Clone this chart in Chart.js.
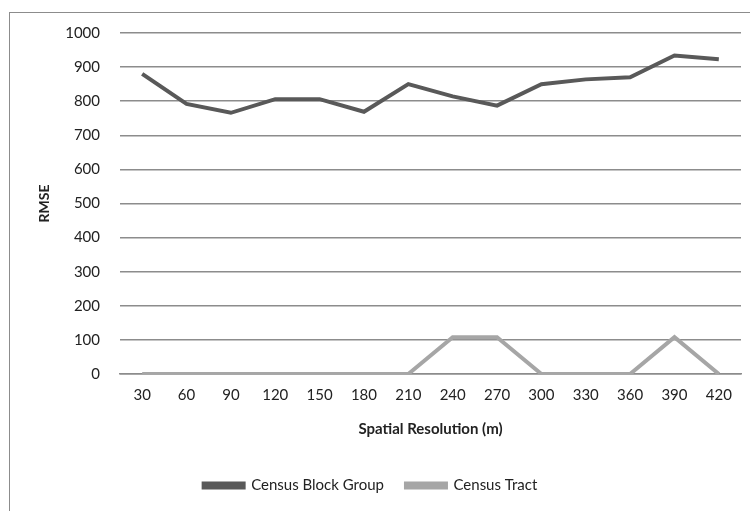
<!DOCTYPE html>
<html>
<head>
<meta charset="utf-8">
<script src="https://cdn.jsdelivr.net/npm/chart.js@4.4.0/dist/chart.umd.min.js"></script>
<style>
  body { margin: 0; background: #fff; }
  #wrap { position: relative; width: 750px; height: 511px; overflow: hidden; }
  #frame { position: absolute; left: 9px; top: 12px; width: 760px; height: 520px; border: 1px solid #8c8c8c; }
  #chart { position: absolute; left: 0; top: 0; }
</style>
</head>
<body>
<div id="wrap">
  <div id="frame"></div>
  <canvas id="chart" width="750" height="511"></canvas>
</div>
<script>
// spatial resolution (m)
var resolutions = ['30', '60', '90', '120', '150', '180', '210', '240', '270', '300', '330', '360', '390', '420'];

// RMSE
var blockGroup = [880, 792, 766, 806, 806, 769, 850, 814, 787, 850, 864, 870, 934, 923];
var tract      = [0, 0, 0, 0, 0, 0, 0, 108, 108, 0, 0, 0, 108, 0];

var yTicks = [0, 100, 200, 300, 400, 500, 600, 700, 800, 900, 1000];

var fontName = 'Lato, "Open Sans", sans-serif';
var textColor = '#222';

var ctx = document.getElementById('chart');

var rmseChart = new Chart(ctx, {
    type: 'line',
    data: {
        labels: resolutions,
        datasets: [{
            label: 'Census Block Group',
            data: blockGroup,
            borderColor: '#595959',
            backgroundColor: '#595959',
            borderWidth: 4,
            pointRadius: 0,
            tension: 0
        }, {
            label: 'Census Tract',
            data: tract,
            borderColor: '#a6a6a6',
            backgroundColor: '#a6a6a6',
            borderWidth: 4,
            pointRadius: 0,
            tension: 0
        }]
    },
    options: {
        responsive: false,
        animation: false,
        layout: {
            padding: { left: 0, right: 9, top: 33, bottom: 8 }
        },
        plugins: {
            tooltip: { enabled: false },
            legend: {
                position: 'bottom',
                labels: {
                    boxWidth: 40,
                    boxHeight: 4,
                    padding: 22,
                    color: textColor,
                    font: { family: fontName, size: 15 }
                }
            }
        },
        scales: {
            x: {
                offset: true,
                grid: { display: false, drawTicks: false },
                border: { display: true, color: '#8c8c8c', width: 1.5 },
                ticks: {
                    color: textColor,
                    padding: 12,
                    maxRotation: 0,
                    font: { family: fontName, size: 15 }
                },
                title: {
                    display: true,
                    text: 'Spatial Resolution (m)',
                    color: textColor,
                    padding: { top: 8, bottom: 18 },
                    font: { family: fontName, size: 15, weight: 'bold' }
                },
                afterFit: function(scale) { scale.height = 82; }
            },
            y: {
                min: 0,
                max: 1000,
                afterBuildTicks: function(scale) {
                    scale.ticks = yTicks.map(function(v){ return { value: v }; });
                },
                grid: { color: '#8c8c8c', lineWidth: 1.5, drawTicks: false },
                border: { display: false },
                ticks: {
                    color: textColor,
                    padding: 20,
                    font: { family: fontName, size: 15 },
                    callback: function(v) { return String(v); }
                },
                title: {
                    display: true,
                    text: 'RMSE',
                    color: textColor,
                    padding: { top: 36, bottom: 4 },
                    font: { family: fontName, size: 14, weight: 'bold' }
                },
                afterFit: function(scale) { scale.width = 120; }
            }
        }
    }
});
</script>
</body>
</html>
